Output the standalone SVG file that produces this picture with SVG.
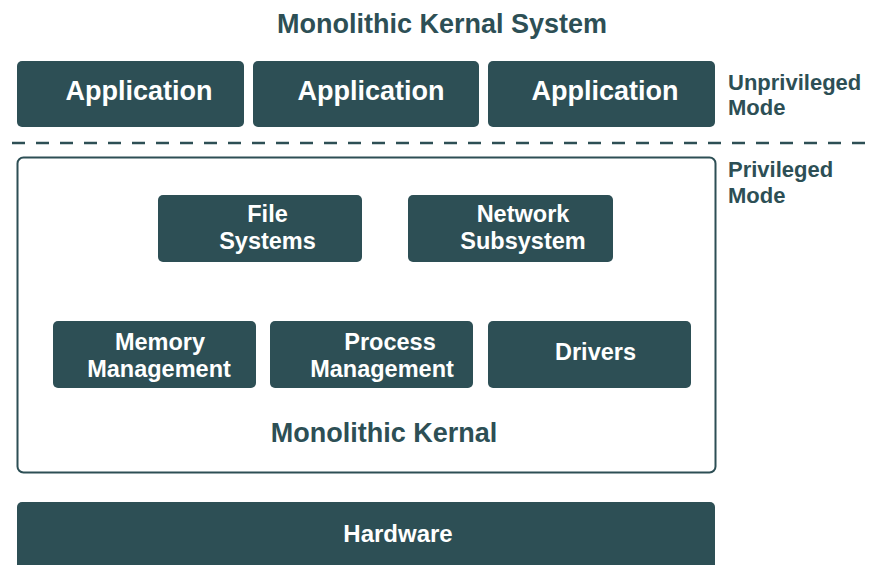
<svg xmlns="http://www.w3.org/2000/svg" width="870" height="565" viewBox="0 0 870 565">
<style>
.box{fill:#2d4f55;}
.frame{fill:none;stroke:#2d4f55;stroke-width:2;}
.t{font-family:"Liberation Sans",Arial,sans-serif;font-weight:bold;text-anchor:middle;}
.w{fill:#ffffff;}
.d{fill:#2d4f55;}
.side{font-family:"Liberation Sans",Arial,sans-serif;font-weight:bold;font-size:22px;fill:#2d4f55;}
</style>
<rect width="870" height="565" fill="#ffffff"/>
<text id="title" class="t d" x="442" y="33" font-size="27">Monolithic Kernal System</text>
<g id="app1"><rect class="box" x="17" y="61" width="227" height="66" rx="5"/><text class="t w" x="139" y="100" font-size="27">Application</text></g>
<g id="app2"><rect class="box" x="253" y="61" width="226" height="66" rx="5"/><text class="t w" x="371" y="100" font-size="27">Application</text></g>
<g id="app3"><rect class="box" x="488" y="61" width="227" height="66" rx="5"/><text class="t w" x="605" y="100" font-size="27">Application</text></g>
<g id="unpriv"><text class="side" x="728" y="90">Unprivileged</text><text class="side" x="728" y="115">Mode</text></g>
<g id="connectors"><line x1="12" y1="143" x2="870" y2="143" stroke="#2d4f55" stroke-width="2.5" stroke-dasharray="13,11"/></g>
<g id="priv"><text class="side" x="728" y="177">Privileged</text><text class="side" x="728" y="203">Mode</text></g>
<g id="kernel"><rect class="frame" x="17.5" y="157.5" width="698" height="315" rx="6"/><text class="t d" x="384" y="442" font-size="27">Monolithic Kernal</text></g>
<g id="fs"><rect class="box" x="158" y="195" width="204" height="67" rx="5"/><text class="t w" x="267.5" y="222" font-size="23.5">File</text><text class="t w" x="267.5" y="249" font-size="23.5">Systems</text></g>
<g id="net"><rect class="box" x="408" y="195" width="205" height="67" rx="5"/><text class="t w" x="523" y="222" font-size="23.5">Network</text><text class="t w" x="523" y="249" font-size="23.5">Subsystem</text></g>
<g id="mem"><rect class="box" x="53" y="321" width="203" height="67" rx="5"/><text class="t w" x="160" y="350" font-size="23.5">Memory</text><text class="t w" x="159" y="377" font-size="23.5">Management</text></g>
<g id="proc"><rect class="box" x="270" y="321" width="203" height="67" rx="5"/><text class="t w" x="390" y="350" font-size="23.5">Process</text><text class="t w" x="382" y="377" font-size="23.5">Management</text></g>
<g id="drv"><rect class="box" x="488" y="321" width="203" height="67" rx="5"/><text class="t w" x="595.5" y="360" font-size="23.5">Drivers</text></g>
<g id="hw"><rect class="box" x="17" y="502" width="698" height="70" rx="5"/><text class="t w" x="398" y="542" font-size="24">Hardware</text></g>
</svg>
